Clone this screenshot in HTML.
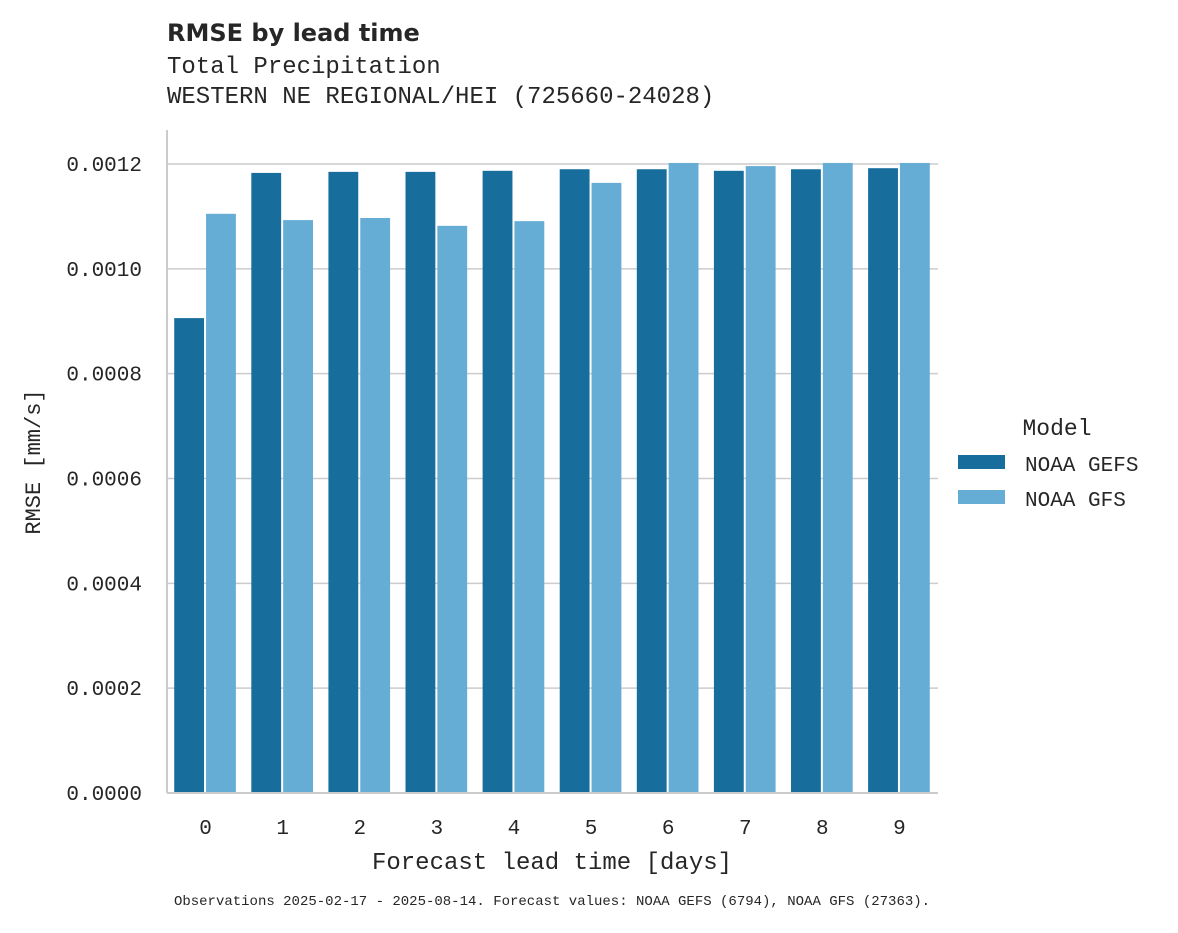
<!DOCTYPE html>
<html><head><meta charset="utf-8"><style>
body{margin:0;background:#fff;}
svg text{font-family:"Liberation Mono","DejaVu Sans Mono",monospace;fill:#262626;}
</style></head><body>
<svg id="chart" width="1178" height="928" xmlns="http://www.w3.org/2000/svg">
<text x="167" y="41" style="font-family:'DejaVu Sans','Liberation Sans',sans-serif;font-weight:bold;font-size:24px">RMSE by lead time</text>
<text x="167" y="73" font-size="24">Total Precipitation</text>
<text x="167" y="103" font-size="24">WESTERN NE REGIONAL/HEI (725660-24028)</text>
<g id="grid"></g><g id="bars"></g><g id="axes"></g>
<text x="552" y="869" font-size="24" text-anchor="middle">Forecast lead time [days]</text>
<text transform="translate(40,462) rotate(-90)" font-size="22" text-anchor="middle">RMSE [mm/s]</text>
<g>
<text x="1057" y="435" font-size="23" text-anchor="middle">Model</text>
<rect x="958" y="455" width="47" height="14" fill="#176e9d"/>
<text x="1025" y="471" font-size="21">NOAA GEFS</text>
<rect x="958" y="490" width="47" height="14" fill="#66add6"/>
<text x="1025" y="506" font-size="21">NOAA GFS</text>
</g>
<text x="552" y="905" font-size="14" text-anchor="middle">Observations 2025-02-17 - 2025-08-14. Forecast values: NOAA GEFS (6794), NOAA GFS (27363).</text>
</svg>
<script>
const categories=["0","1","2","3","4","5","6","7","8","9"];
const gefs=[0.000906,0.001183,0.001185,0.001185,0.001187,0.00119,0.00119,0.001187,0.00119,0.001192];
const gfs=[0.001105,0.001093,0.001097,0.001082,0.001091,0.001164,0.001202,0.001196,0.001202,0.001202];
const yTicks=[0,0.0002,0.0004,0.0006,0.0008,0.0010,0.0012];
const yTickLabels=["0.0000","0.0002","0.0004","0.0006","0.0008","0.0010","0.0012"];
const NS="http://www.w3.org/2000/svg";
const x0=167,x1=938,yB=793,yT=130;
const yScale=v=>yB-v/0.0012*(793-164);
const step=(x1-x0)/categories.length;
const xScale=i=>x0+step*(i+0.5);
function mk(tag,attrs,parent){const e=document.createElementNS(NS,tag);for(const k in attrs)e.setAttribute(k,attrs[k]);parent.appendChild(e);return e;}
const grid=document.getElementById('grid'),bars=document.getElementById('bars'),axes=document.getElementById('axes');
yTicks.forEach((t,i)=>{
 const y=yScale(t);
 const l=mk('line',{x1:x0,x2:x1,y1:y,y2:y,stroke:'#cccccc','stroke-width':1.5},grid);
 
 
 const tx=mk('text',{x:142,y:y+7,'font-size':21,'text-anchor':'end'},axes);
 tx.textContent=yTickLabels[i];
 
 
});
const bw=step*0.4;
categories.forEach((c,i)=>{
 const cx=xScale(i);
 [[gefs,'#176e9d',-1,'bar-gefs'],[gfs,'#66add6',0,'bar-gfs']].forEach(([arr,col,off,nm])=>{
  const y=yScale(arr[i]);
  const r=mk('rect',{x:cx+off*bw+(off<0?-0.5:0.5),y:y,width:bw-1,height:yB-y,fill:col},bars);
  
  
 });
 const tx=mk('text',{x:cx,y:834,'font-size':21,'text-anchor':'middle'},axes);
 tx.textContent=c;
 
 
});
const ly=mk('line',{x1:x0,x2:x0,y1:yT,y2:yB,stroke:'#cccccc','stroke-width':2},axes);


const lx=mk('line',{x1:x0,x2:x1,y1:yB,y2:yB,stroke:'#cccccc','stroke-width':2},axes);


</script>
</body></html>
